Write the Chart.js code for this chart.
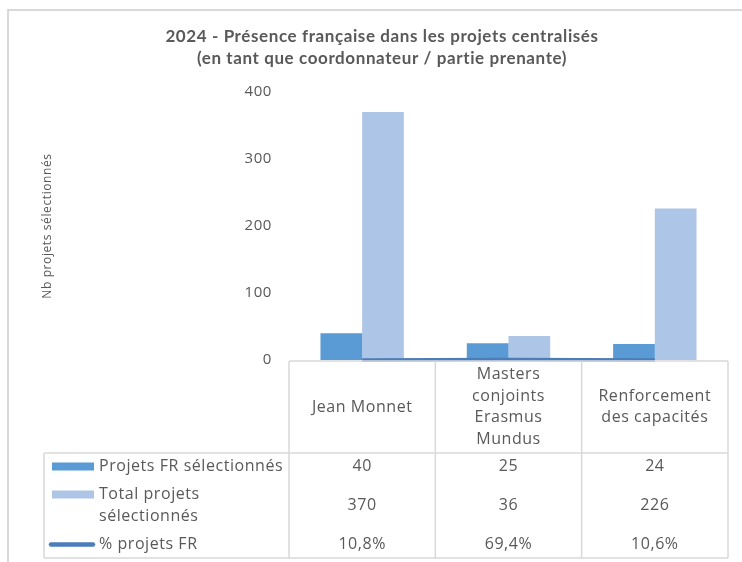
<!DOCTYPE html>
<html><head><meta charset="utf-8">
<script src="https://cdn.jsdelivr.net/npm/chart.js@4"></script>
<style>html,body{margin:0;padding:0;background:#fff;overflow:hidden}</style>
</head><body>
<canvas id="c" width="742" height="562"></canvas>
<script>
// ---- data ----
const categories = [["Jean Monnet"], ["Masters", "conjoints", "Erasmus", "Mundus"], ["Renforcement", "des capacités"]];
const projetsFR = [40, 25, 24];
const totalProjets = [370, 36, 226];
const pctFR = [0.108, 0.694, 0.106];
const seriesNames = [["Projets FR sélectionnés"], ["Total projets", "sélectionnés"], ["% projets FR"]];
const yTicks = [0, 100, 200, 300, 400];
const titleLines = ["2024 - Présence française dans les projets centralisés", "(en tant que coordonnateur / partie prenante)"];
const yTitle = "Nb projets sélectionnés";

// ---- styles ----
const C_DARK = "#5b9bd5", C_LIGHT = "#adc5e6", C_LINE = "#4a7ebb";
const TXT = "#595959", GRID = "#d9d9d9";
const FONT = "'Open Sans', 'DejaVu Sans', sans-serif";

function fmtPct(v) { return (v * 100).toFixed(1).replace(".", ",") + "%"; }

const tablePlugin = {
  id: "tablePlugin",
  beforeDraw(chart) {
    const ctx = chart.ctx;
    ctx.letterSpacing = "0.6px";
    ctx.save();
    ctx.strokeStyle = GRID; ctx.lineWidth = 2;
    ctx.beginPath();
    ctx.moveTo(8, 562); ctx.lineTo(8, 10); ctx.lineTo(742, 10);
    ctx.stroke();
    ctx.restore();
  },
  afterDraw(chart) {
    const ctx = chart.ctx, xs = chart.scales.x, ca = chart.chartArea;
    const n = categories.length, w = (xs.right - xs.left) / n;
    const top = ca.bottom + 1, catBottom = top + 92, bottom = 558, leftT = 44;
    ctx.save();
    ctx.strokeStyle = GRID; ctx.lineWidth = 1.5;
    ctx.beginPath();
    for (let i = 0; i <= n; i++) {
      const x = xs.left + i * w;
      ctx.moveTo(x, top); ctx.lineTo(x, bottom);
    }
    ctx.moveTo(xs.left, top); ctx.lineTo(xs.right, top);
    ctx.moveTo(leftT, catBottom); ctx.lineTo(xs.right, catBottom);
    ctx.moveTo(leftT, bottom); ctx.lineTo(xs.right, bottom);
    ctx.moveTo(leftT, catBottom); ctx.lineTo(leftT, bottom);
    ctx.stroke();

    ctx.fillStyle = TXT;
    ctx.font = "16px " + FONT;
    ctx.letterSpacing = "0.55px";
    ctx.textBaseline = "middle";
    ctx.textAlign = "center";
    const lh = 21.4;
    const catMid = (top + catBottom) / 2;
    categories.forEach((lines, i) => {
      const cx = xs.getPixelForValue(i);
      const y0 = catMid - (lines.length - 1) * lh / 2;
      lines.forEach((t, k) => ctx.fillText(t, cx, y0 + k * lh));
    });
    const rowY = [catBottom + 13.5, catBottom + 52.5, catBottom + 91.5];
    const rows = [projetsFR.map(String), totalProjets.map(String), pctFR.map(fmtPct)];
    rows.forEach((vals, r) => {
      vals.forEach((v, i) => ctx.fillText(v, xs.getPixelForValue(i), rowY[r]));
    });
    // legend cells
    ctx.textAlign = "left";
    seriesNames.forEach((lines, r) => {
      const y0 = rowY[r] - (lines.length - 1) * 22 / 2;
      lines.forEach((t, k) => ctx.fillText(t, 99, y0 + k * 22));
    });
    ctx.fillStyle = C_DARK; ctx.fillRect(52, rowY[0] - 4, 42, 8);
    ctx.fillStyle = C_LIGHT; ctx.fillRect(52, rowY[1] - 11 - 4, 42, 8);
    ctx.strokeStyle = C_LINE; ctx.lineWidth = 4.5; ctx.lineCap = "round";
    ctx.beginPath(); ctx.moveTo(51, rowY[2]); ctx.lineTo(93, rowY[2]); ctx.stroke();
    ctx.restore();
  }
};

new Chart(document.getElementById("c"), {
  data: {
    labels: categories.map(l => l.join(" ")),
    datasets: [
      { type: "line", label: seriesNames[2].join(" "), data: pctFR, borderColor: C_LINE, borderWidth: 3.5,
        pointRadius: 0, clip: false, order: 0, tension: 0, borderCapStyle: "butt" },
      { type: "bar", label: seriesNames[0].join(" "), data: projetsFR, backgroundColor: C_DARK, order: 1,
        categoryPercentage: 0.57, barPercentage: 1.0 },
      { type: "bar", label: seriesNames[1].join(" "), data: totalProjets, backgroundColor: C_LIGHT, order: 1,
        categoryPercentage: 0.57, barPercentage: 1.0 }
    ]
  },
  options: {
    responsive: false,
    animation: false,
    devicePixelRatio: 1,
    layout: { padding: { left: 36, right: 14, top: 0, bottom: 202 } },
    plugins: {
      legend: { display: false },
      tooltip: { enabled: false },
      title: {
        display: true, text: titleLines, color: TXT,
        font: { family: "Lato, 'Open Sans', sans-serif", size: 17, weight: "bold", lineHeight: 22 / 17 },
        padding: { top: 26, bottom: 22 }
      }
    },
    scales: {
      x: { type: "category", display: false, offset: true },
      y: {
        min: 0, max: 400,
        afterBuildTicks(s) { s.ticks = yTicks.map(v => ({ value: v })); },
        afterFit(s) { s.width = 289 - 36; },
        grid: { display: false, drawTicks: false },
        border: { display: false },
        ticks: { color: TXT, font: { family: FONT, size: 15 }, padding: 17 },
        title: { display: true, text: yTitle, color: TXT, font: { family: FONT, size: 12 }, padding: { top: 4, bottom: 0 } }
      }
    }
  },
  plugins: [tablePlugin]
});
</script>
</body></html>
